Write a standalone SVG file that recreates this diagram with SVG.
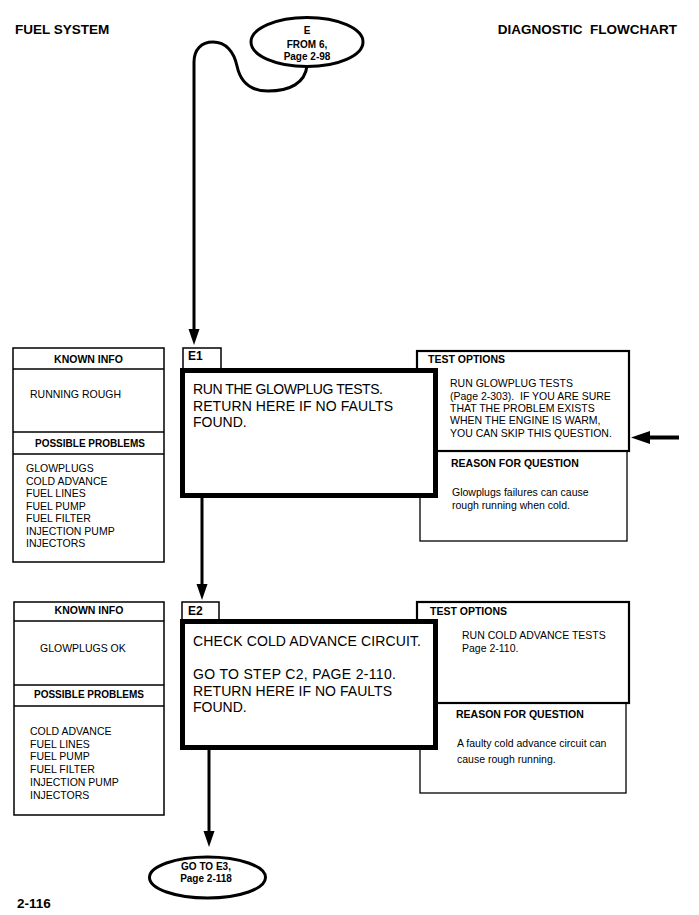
<svg xmlns="http://www.w3.org/2000/svg" width="699" height="915" viewBox="0 0 699 915">
<style>
text{font-family:"Liberation Sans",Arial,Helvetica,sans-serif;fill:#000}
.hdr{font-size:13.5px;font-weight:bold}
.b10{font-size:10px;font-weight:bold}
.b105{font-size:10.5px;font-weight:bold}
.lbl{font-size:12px;font-weight:bold}
.r10{font-size:10.5px}
.r105{font-size:10.5px}
.main{font-size:14px}
.mid{text-anchor:middle}
.thin{fill:#fff;stroke:#000;stroke-width:1.5}
.opt{fill:#fff;stroke:#000;stroke-width:2.2}
.rsn{fill:#fff;stroke:#000;stroke-width:1.3}
.thick{fill:#fff;stroke:#000;stroke-width:5}
.oval{fill:#fff;stroke:#000;stroke-width:3}
.conn{fill:none;stroke:#000;stroke-width:3}
</style>
<defs>
<marker id="ah" markerUnits="userSpaceOnUse" markerWidth="17" markerHeight="12" refX="0" refY="6" orient="auto" overflow="visible">
<path d="M0,0.5 L16,6 L0,11.5 Z" fill="#000"/>
</marker>
</defs>
<rect width="699" height="915" fill="#fff"/>

<g id="header">
<text class="hdr" x="15" y="34">FUEL SYSTEM</text>
<text class="hdr" x="677" y="34" text-anchor="end">DIAGNOSTIC&#160; FLOWCHART</text>
<text class="hdr" x="17" y="908">2-116</text>
</g>

<g id="connectors">
<path class="conn" d="M307,66 C305,83 290,91 268,91 C248,91 240,80 237,66 C234,52 226,42 213,42 C201,42 194,50 194,62 L194,329" marker-end="url(#ah)"/>
<line class="conn" x1="202" y1="498" x2="202" y2="584" marker-end="url(#ah)"/>
<line class="conn" x1="209" y1="750" x2="209" y2="831" marker-end="url(#ah)"/>
<line x1="648" y1="437.5" x2="679" y2="437.5" stroke="#000" stroke-width="4"/>
<polygon points="631,437.5 650,431 650,444" fill="#000"/>
</g>

<g id="start">
<ellipse class="oval" cx="307" cy="42" rx="56" ry="24.5"/>
<text class="b10 mid" x="307" y="34">E</text>
<text class="b10 mid" x="307" y="48">FROM 6,</text>
<text class="b10 mid" x="307" y="60">Page 2-98</text>
</g>

<g id="e1-known">
<rect class="thin" x="13" y="348" width="151" height="214"/>
<line x1="13" y1="369" x2="164" y2="369" stroke="#000" stroke-width="1.5"/>
<line x1="13" y1="432" x2="164" y2="432" stroke="#000" stroke-width="1.5"/>
<line x1="13" y1="454" x2="164" y2="454" stroke="#000" stroke-width="1.5"/>
<text class="b105 mid" x="88.5" y="363">KNOWN INFO</text>
<text class="r105" x="30" y="398">RUNNING ROUGH</text>
<text class="b10 mid" x="90" y="447">POSSIBLE PROBLEMS</text>
<text class="r10" x="26" y="472">GLOWPLUGS</text>
<text class="r10" x="26" y="484.5">COLD ADVANCE</text>
<text class="r10" x="26" y="497">FUEL LINES</text>
<text class="r10" x="26" y="509.5">FUEL PUMP</text>
<text class="r10" x="26" y="522">FUEL FILTER</text>
<text class="r10" x="26" y="534.5">INJECTION PUMP</text>
<text class="r10" x="26" y="547">INJECTORS</text>
</g>

<g id="e1-options">
<rect class="rsn" x="420" y="451" width="207" height="90"/>
<rect class="opt" x="417" y="351" width="212" height="100"/>
<text class="b105" x="428" y="363">TEST OPTIONS</text>
<text class="r105" x="450" y="387">RUN GLOWPLUG TESTS</text>
<text class="r105" x="450" y="399.5">(Page 2-303).&#160; IF YOU ARE SURE</text>
<text class="r105" x="450" y="412">THAT THE PROBLEM EXISTS</text>
<text class="r105" x="450" y="424">WHEN THE ENGINE IS WARM,</text>
<text class="r105" x="450" y="436.5">YOU CAN SKIP THIS QUESTION.</text>
<text class="b105" x="451" y="467">REASON FOR QUESTION</text>
<text class="r105" x="452" y="496">Glowplugs failures can cause</text>
<text class="r105" x="452" y="509">rough running when cold.</text>
</g>

<g id="e1">
<rect class="thin" x="183" y="348" width="38" height="21"/>
<text class="lbl" x="188" y="360">E1</text>
<rect class="thick" x="182.5" y="370.5" width="253" height="125"/>
<text class="main" x="193" y="394" textLength="190">RUN THE GLOWPLUG TESTS.</text>
<text class="main" x="193" y="410.5" textLength="200">RETURN HERE IF NO FAULTS</text>
<text class="main" x="193" y="427">FOUND.</text>
</g>

<g id="e2-known">
<rect class="thin" x="14" y="602" width="150" height="213"/>
<line x1="14" y1="621" x2="164" y2="621" stroke="#000" stroke-width="1.5"/>
<line x1="14" y1="685" x2="164" y2="685" stroke="#000" stroke-width="1.5"/>
<line x1="14" y1="706" x2="164" y2="706" stroke="#000" stroke-width="1.5"/>
<text class="b105 mid" x="89" y="614">KNOWN INFO</text>
<text class="r105" x="40" y="652">GLOWPLUGS OK</text>
<text class="b10 mid" x="89" y="698">POSSIBLE PROBLEMS</text>
<text class="r10" x="30" y="735">COLD ADVANCE</text>
<text class="r10" x="30" y="747.5">FUEL LINES</text>
<text class="r10" x="30" y="760">FUEL PUMP</text>
<text class="r10" x="30" y="773">FUEL FILTER</text>
<text class="r10" x="30" y="786">INJECTION PUMP</text>
<text class="r10" x="30" y="798.5">INJECTORS</text>
</g>

<g id="e2-options">
<rect class="rsn" x="420" y="703" width="206" height="90"/>
<rect class="opt" x="417" y="602" width="212" height="101"/>
<text class="b105" x="430" y="615">TEST OPTIONS</text>
<text class="r105" x="462" y="639">RUN COLD ADVANCE TESTS</text>
<text class="r105" x="462" y="651.5">Page 2-110.</text>
<text class="b105" x="456" y="718">REASON FOR QUESTION</text>
<text class="r105" x="457" y="747">A faulty cold advance circuit can</text>
<text class="r105" x="457" y="763">cause rough running.</text>
</g>

<g id="e2">
<rect class="thin" x="182" y="602" width="37" height="19"/>
<text class="lbl" x="188" y="615">E2</text>
<rect class="thick" x="182.5" y="621.5" width="253" height="126"/>
<text class="main" x="193" y="646" textLength="228">CHECK COLD ADVANCE CIRCUIT.</text>
<text class="main" x="193" y="679" textLength="203">GO TO STEP C2, PAGE 2-110.</text>
<text class="main" x="193" y="695.5" textLength="199">RETURN HERE IF NO FAULTS</text>
<text class="main" x="193" y="712">FOUND.</text>
</g>

<g id="end">
<ellipse class="oval" cx="207.5" cy="877.5" rx="58" ry="20.5"/>
<text class="b10 mid" x="206" y="870">GO TO E3,</text>
<text class="b10 mid" x="206" y="882">Page 2-118</text>
</g>
</svg>
